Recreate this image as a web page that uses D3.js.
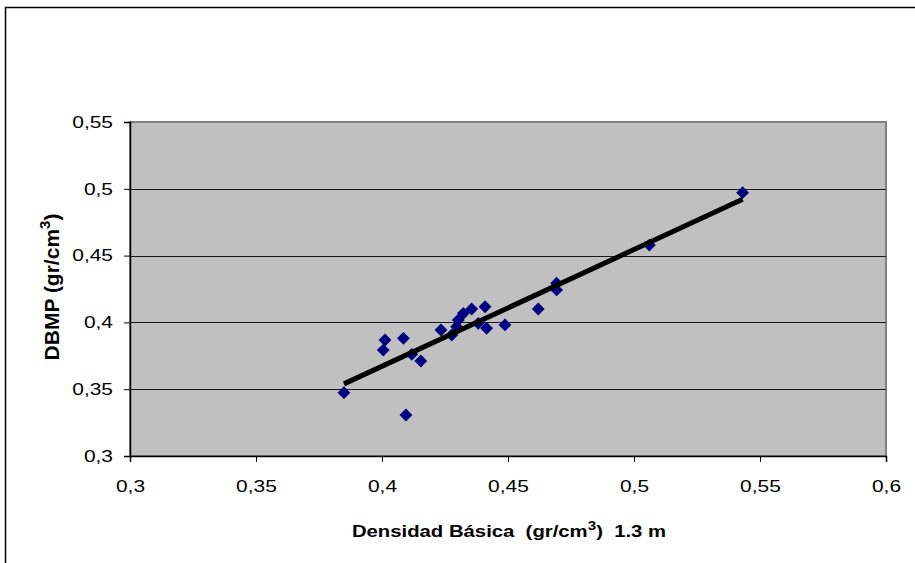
<!DOCTYPE html>
<html lang="es">
<head>
<meta charset="UTF-8">
<title>DBMP vs Densidad Básica</title>
<script src="https://d3js.org/d3.v7.min.js"></script>
<style>
  body { margin: 0; background: #fff; font-family: "Liberation Sans", Arial, sans-serif; }
  svg { display: block; }
  text { white-space: pre; }
</style>
</head>
<body>
<svg id="chart" width="915" height="563"></svg>
<script>
// Densidad básica a 1.3 m (x) y DBMP (y), gr/cm3
const densidad = [0.3849, 0.4012, 0.4005, 0.4085, 0.4118, 0.4154, 0.4095, 0.4234, 0.4277, 0.4296, 0.4303,
                  0.4323, 0.4356, 0.4409, 0.4382, 0.4415, 0.4488, 0.4620, 0.4693, 0.4693, 0.5061, 0.5431];
const dbmp     = [0.3474, 0.3868, 0.3793, 0.3881, 0.3761, 0.3711, 0.3307, 0.3943, 0.3906, 0.3968, 0.4018,
                  0.4068, 0.4100, 0.4117, 0.3993, 0.3956, 0.3981, 0.4100, 0.4293, 0.4243, 0.4579, 0.4971];
const xTicks = [0.3, 0.35, 0.4, 0.45, 0.5, 0.55, 0.6];
const yTicks = [0.3, 0.35, 0.4, 0.45, 0.5, 0.55];

const svg = d3.select("#chart");
const plot = { left: 130, top: 122, right: 886, bottom: 456 };
const stretch = 1.27; // the original text is drawn a bit wide

const x = d3.scaleLinear().domain([0.3, 0.6]).range([plot.left, plot.right]);
const y = d3.scaleLinear().domain([0.3, 0.55]).range([plot.bottom, plot.top]);
const fmt = d => String(+d.toFixed(2)).replace(".", ",");

// outer chart frame (cut off on the right and bottom)
svg.append("rect")
  .attr("x", 5.5).attr("y", 7.5).attr("width", 940).attr("height", 600)
  .attr("fill", "#fff").attr("stroke", "#000").attr("stroke-width", 1.5);

// plot background
svg.append("rect")
  .attr("x", plot.left).attr("y", plot.top)
  .attr("width", plot.right - plot.left).attr("height", plot.bottom - plot.top)
  .attr("fill", "#c0c0c0").attr("stroke", "#808080").attr("stroke-width", 2);

// horizontal gridlines
svg.append("g").selectAll("line")
  .data(yTicks.filter(t => t > 0.3 && t < 0.55))
  .join("line")
  .attr("x1", plot.left).attr("x2", plot.right)
  .attr("y1", d => Math.round(y(d)) + 0.5).attr("y2", d => Math.round(y(d)) + 0.5)
  .attr("stroke", "#1a1a1a").attr("stroke-width", 1);

// axes
const xAxis = svg.append("g")
  .attr("transform", `translate(0,${plot.bottom})`)
  .call(d3.axisBottom(x).tickValues(xTicks).tickFormat(fmt).tickSizeOuter(0).tickSize(6).tickPadding(18));
const yAxis = svg.append("g")
  .attr("transform", `translate(${plot.left},0)`)
  .call(d3.axisLeft(y).tickValues(yTicks).tickFormat(fmt).tickSizeOuter(0).tickSize(6).tickPadding(11));

[xAxis, yAxis].forEach(a => {
  a.select(".domain").attr("stroke", "#000").attr("stroke-width", 1.5);
  a.selectAll(".tick line").attr("stroke", "#000");
  a.selectAll("text").attr("fill", "#000")
    .style("font-family", "'Liberation Sans', Arial, sans-serif").style("font-size", "16.5px")
    .each(function() {
      const t = d3.select(this), tx = +t.attr("x") || 0;
      t.attr("x", 0).attr("transform", `translate(${tx},0) scale(${stretch},1)`);
    });
});

// points
const pts = densidad.map((d, i) => ({ x: d, y: dbmp[i] }));
svg.append("g").selectAll("path")
  .data(pts)
  .join("path")
  .attr("d", d3.symbol(d3.symbolDiamond2, 105))
  .attr("transform", d => `translate(${x(d.x)},${y(d.y)})`)
  .attr("fill", "#000080");

// linear trendline (least squares)
const mx = d3.mean(densidad), my = d3.mean(dbmp);
const slope = d3.sum(pts, p => (p.x - mx) * (p.y - my)) / d3.sum(pts, p => (p.x - mx) ** 2);
const icpt = my - slope * mx;
const ext = d3.extent(densidad);
svg.append("path")
  .datum(ext.map(v => [v, icpt + slope * v]))
  .attr("d", d3.line().x(d => x(d[0])).y(d => y(d[1])))
  .attr("stroke", "#000").attr("stroke-width", 5).attr("fill", "none");

// axis titles
const xt = svg.append("text")
  .attr("transform", `translate(509,537) scale(${stretch},1)`)
  .attr("text-anchor", "middle")
  .style("font-size", "16px").style("font-weight", "bold");
xt.append("tspan").text("Densidad Básica  (gr/cm");
xt.append("tspan").attr("dy", -7).style("font-size", "12px").text("3");
xt.append("tspan").attr("dy", 7).text(")  1.3 m");

const yt = svg.append("text")
  .attr("transform", `translate(59,287) rotate(-90)`)
  .attr("text-anchor", "middle")
  .style("font-size", "21px").style("font-weight", "bold");
yt.append("tspan").text("DBMP (gr/cm");
yt.append("tspan").attr("dy", -9).style("font-size", "15px").text("3");
yt.append("tspan").attr("dy", 9).text(")");
</script>
</body>
</html>
